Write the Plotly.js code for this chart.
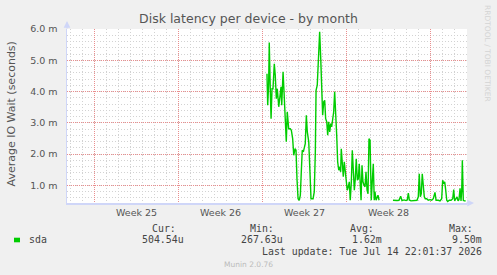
<!DOCTYPE html>
<html><head><meta charset="utf-8">
<script src="https://cdn.plot.ly/plotly-3.0.1.min.js"></script>
<style>html,body{margin:0;padding:0;background:#f0f0f0;}#chart{width:497px;height:275px;}</style>
</head><body><div id="chart"></div>
<script>
// time in days since the Week-25 boundary; latency in milliseconds
const days = [14.39,14.45,14.53,14.58,14.67,14.73,14.81,14.89,15.00,15.08,15.17,15.25,15.37,15.45,15.56,15.62,15.73,15.81,15.92,16.00,
16.08,16.20,16.33,16.42,16.53,16.62,16.73,16.81,16.89,16.98,17.08,17.17,17.25,17.33,17.42,17.50,17.58,17.67,17.75,17.87,
17.95,18.06,18.23,18.33,18.42,18.48,18.58,18.67,18.78,18.87,18.95,19.03,19.12,19.20,19.28,19.37,19.45,19.53,19.62,19.70,
19.78,19.87,19.95,20.03,20.12,20.20,20.28,20.37,20.45,20.53,20.58,20.67,20.75,20.83,20.92,21.00,21.08,21.17,21.25,21.33,
21.42,21.50,21.58,21.67,21.75,21.83,21.92,22.00,22.08,22.17,22.23,22.31,22.39,22.48,22.56,22.64,22.73,22.81,22.89,22.98,
23.03,23.08,23.17,23.25,23.33,23.39,23.48,23.56,23.64,23.73,23.80,
24.89,25.06,25.23,25.39,25.53,25.64,25.81,25.98,26.08,26.17,26.25,26.39,26.56,26.73,26.89,27.00,27.08,27.17,27.25,27.33,
27.42,27.50,27.58,27.70,27.83,27.98,28.12,28.25,28.39,28.48,28.67,28.81,28.95,29.03,29.12,29.20,29.28,29.37,29.45,29.58,
29.73,29.87,29.95,30.03,30.14,30.23,30.31,30.39,30.48,30.56,30.62,30.67,30.75,30.83,30.95];
const latencyMs = [4.57,3.56,4.25,5.57,3.99,3.13,4.09,4.09,4.89,4.52,3.77,4.09,3.51,3.83,4.15,3.56,4.63,3.99,3.24,2.39,
3.35,2.81,2.81,2.76,2.49,1.96,2.17,2.12,1.21,0.57,0.52,0.68,1.43,2.12,2.07,2.28,2.33,3.24,2.71,2.39,
1.64,0.57,0.57,0.79,2.07,4.04,4.20,4.95,5.91,5.05,4.20,3.24,3.67,3.72,3.13,3.03,2.60,3.03,2.71,2.97,
2.87,3.19,3.35,3.99,3.35,2.60,1.75,1.48,1.59,1.43,2.17,1.53,1.27,1.75,1.32,1.00,0.84,0.95,1.11,0.52,
1.11,2.12,1.30,0.84,1.21,1.85,1.16,1.21,1.69,0.68,0.52,1.64,1.11,1.00,0.95,1.43,0.84,0.73,2.49,2.44,
1.27,0.52,1.16,1.69,0.52,0.80,0.52,0.63,0.68,0.52,null,
0.52,0.51,0.51,0.52,0.65,0.51,0.53,0.51,0.53,0.75,0.53,0.50,0.51,0.51,0.52,0.63,1.37,0.63,0.73,1.37,
0.95,0.63,0.57,0.57,0.52,0.54,0.52,0.57,0.77,0.52,0.52,0.50,0.57,1.16,1.05,1.11,0.86,0.52,0.48,0.52,
0.52,0.57,0.86,0.50,0.57,0.63,0.50,0.54,0.90,0.50,0.84,1.80,0.52,0.50,0.50];

const weekTickPos = [3.5, 10.5, 17.5, 24.5];
const weekLabels = ['Week 25', 'Week 26', 'Week 27', 'Week 28'];
const yTickVals = [1, 2, 3, 4, 5, 6];
const yTickLabels = ['1.0 m', '2.0 m', '3.0 m', '4.0 m', '5.0 m', '6.0 m'];
const seriesName = 'sda';
const statHeaders = ['Cur:', 'Min:', 'Avg:', 'Max:'];
const statValues = ['504.54u', '267.63u', '1.62m', '9.50m'];
const lastUpdate = 'Last update: Tue Jul 14 22:01:37 2026';
const chartTitle = 'Disk latency per device - by month';
const yTitle = 'Average IO Wait (seconds)';

const W = 497, H = 275, L = 67, R = 30, T = 29, B = 72;
const pw = W - L - R, ph = H - T - B;
const px = x => (x - L) / pw;
const py = y => (H - B - y) / ph;

const FONT = 'DejaVu Sans, sans-serif';
const MONO = 'DejaVu Sans Mono, monospace';
const TXT = '#555555';
const AXIS = '#cfd6f8';

const annotations = [];
annotations.push({xref:'paper', yref:'paper', x:px(10.5), y:py(114), text:yTitle, textangle:-90,
  showarrow:false, font:{family:FONT, size:11, color:TXT}, xanchor:'center', yanchor:'middle'});
annotations.push({xref:'paper', yref:'paper', x:px(488), y:py(53), text:'RRDTOOL / TOBI OETIKER', textangle:90,
  showarrow:false, font:{family:FONT, size:7.5, color:'#d4d4d4'}, xanchor:'center', yanchor:'middle'});
weekLabels.forEach((w, i) => {
  annotations.push({xref:'x', yref:'paper', x:weekTickPos[i], y:py(212.7), text:w, showarrow:false,
    xanchor:'center', yanchor:'middle', font:{family:FONT, size:9.5, color:TXT}});
});
annotations.push({xref:'paper', yref:'paper', x:0, y:py(21), ax:0, ay:9, text:'', showarrow:true,
  arrowhead:2, arrowsize:0.9, arrowwidth:1.5, arrowcolor:AXIS});
annotations.push({xref:'paper', yref:'paper', x:px(474), y:0, ax:-9, ay:0, text:'', showarrow:true,
  arrowhead:2, arrowsize:0.9, arrowwidth:1.5, arrowcolor:AXIS});
annotations.push({xref:'paper', yref:'paper', x:px(26.5), y:py(239.5), text:seriesName, showarrow:false,
  xanchor:'left', yanchor:'middle', font:{family:MONO, size:9.9, color:'#444'}});
const headerLeft = [149.5, 248, 347.5, 446.5];
const valueRight = [185.5, 284.8, 383.8, 483.5];
statHeaders.forEach((h, i) => {
  annotations.push({xref:'paper', yref:'paper', x:px(headerLeft[i]), y:py(228.3), text:h, showarrow:false,
    xanchor:'left', yanchor:'middle', font:{family:MONO, size:9.9, color:'#444'}});
  annotations.push({xref:'paper', yref:'paper', x:px(valueRight[i]), y:py(239.5), text:statValues[i], showarrow:false,
    xanchor:'right', yanchor:'middle', font:{family:MONO, size:9.9, color:'#444'}});
});
annotations.push({xref:'paper', yref:'paper', x:px(483.5), y:py(251), text:lastUpdate, showarrow:false,
  xanchor:'right', yanchor:'middle', font:{family:MONO, size:9.9, color:'#444'}});
annotations.push({xref:'paper', yref:'paper', x:px(248), y:py(264.3), text:'Munin 2.0.76', showarrow:false,
  xanchor:'center', yanchor:'middle', font:{family:FONT, size:7.5, color:'#bbbbbb'}});

const trace = {x: days, y: latencyMs, type:'scatter', mode:'lines', name:seriesName,
  line:{color:'#00cc00', width:1.4}, connectgaps:false, hoverinfo:'skip', showlegend:false};

const xRange = [-2.275, 31.058];
const MAJOR = '#e98e8e', MINOR = '#d2d2d2';
const layout = {
  width: W, height: H,
  margin: {l:L, r:R, t:T, b:B, pad:0},
  paper_bgcolor:'#f0f0f0', plot_bgcolor:'#ffffff',
  showlegend:false,
  title: {text: chartTitle, font:{family:FONT, size:12.5, color:TXT}, xref:'container', yref:'container',
    x:0.5, xanchor:'center', y:1 - 19/H, yanchor:'middle'},
  xaxis: {range:xRange, tickmode:'linear', tick0:0, dtick:7, showticklabels:false, ticks:'',
    showgrid:true, gridcolor:MAJOR, griddash:'1px,1px', gridwidth:1,
    minor:{tickmode:'linear', tick0:0, dtick:1, showgrid:true, gridcolor:MINOR, griddash:'1px,2px', gridwidth:1},
    zeroline:false, showline:true, linecolor:AXIS, linewidth:1.5, fixedrange:true},
  yaxis: {range:[0.432, 6.0], tickmode:'array', tickvals:yTickVals, ticktext:yTickLabels, ticks:'',
    showgrid:true, gridcolor:MAJOR, griddash:'1px,1px', gridwidth:1,
    minor:{tickmode:'linear', tick0:0, dtick:0.2, showgrid:true, gridcolor:MINOR, griddash:'1px,2px', gridwidth:1},
    zeroline:false, showline:true, linecolor:AXIS, linewidth:1.5, ticklabelstandoff:6,
    tickfont:{family:FONT, size:9.5, color:TXT}, fixedrange:true},
  shapes: [{type:'rect', xref:'paper', yref:'paper', x0:px(14), x1:px(20), y0:py(242.3), y1:py(237.7),
    fillcolor:'#00cc00', line:{width:0}}],
  annotations: annotations
};

Plotly.newPlot('chart', [trace], layout, {staticPlot:true, displayModeBar:false});
</script>
</body></html>
